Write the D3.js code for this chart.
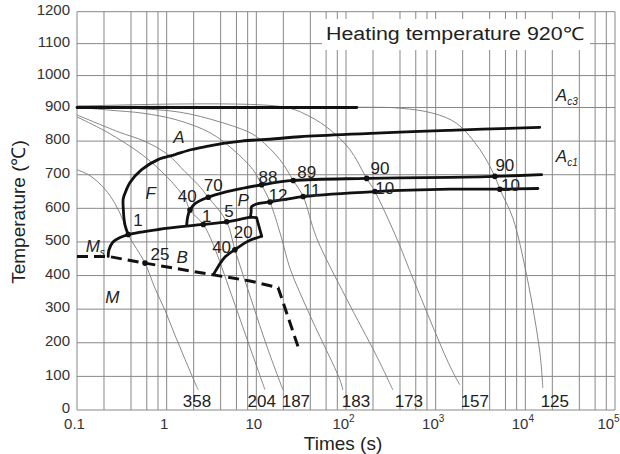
<!DOCTYPE html>
<html><head><meta charset="utf-8">
<script src="https://cdn.jsdelivr.net/npm/d3@7"></script>
<style>body{margin:0;background:#fff}svg{display:block}</style>
</head><body>
<svg id="c" width="620" height="454"></svg>
<script>
// ---------- data ----------
const xTicks = [0.1, 1, 10, 100, 1000, 10000, 100000];
const xTickBase = ["0.1", "1", "10", "10", "10", "10", "10"];
const xTickExp = ["", "", "", "2", "3", "4", "5"];
const yTicks = [0,100,200,300,400,500,600,700,800,900,1000,1100,1200];
const gridMultipliers = [1, 2, 4, 6, 8];
const gridDecades = [-1, 0, 1, 2, 3, 4];

const titleText = "Heating temperature 920\u2103";

// thick transformation lines: [time s, temperature C]
const ac3Line = [[0.1,900],[132,900]];
const ferriteStart = [[0.373,522],[0.343,550],[0.328,600],[0.328,629],[0.358,657],[0.39,677],[0.526,715],[0.80,745],[1.24,760],[1.9,775],[2.89,785],[4.47,794],[6.86,800],[16.1,807],[30.6,813],[1440,832],[14500,841]];
const ferritePearlite = [[1.67,549],[1.72,576],[1.82,595],[2.07,614],[2.91,633],[4.47,648],[6.86,659],[11.46,670],[25.8,683],[170,689],[1440,692],[4571,695],[15200,700]];
const bainiteStart = [[0.223,457],[0.227,476],[0.252,500],[0.302,513],[0.373,522],[0.806,537],[2.56,552],[4.67,560],[8.6,574]];
const bainiteFinish = [[3.31,402],[3.76,427],[4.47,455],[5.77,477],[8.06,502],[11.46,517]];
const pearliteCorner = [[11.46,517],[10.07,572],[8.6,574]];
const pearliteFinish = [[8.6,574],[8.75,590],[8.86,605],[10.4,614],[14.2,619],[33.3,635],[210,650],[1440,657],[5196,657],[13800,659]];
const msLine = [[0.1,457],[0.223,457],[0.573,437],[3.31,402],[8.48,384],[17.5,364],[29.3,187]];

// thin cooling curves
const cool358 = [[0.1,715],[0.14,697],[0.205,657],[0.265,614],[0.326,565],[0.373,522],[0.573,437],[0.741,362],[0.957,297],[1.24,222],[1.6,151],[2.07,81],[2.25,60]];
const cool204 = [[0.1,872],[0.222,825],[0.53,760],[1.03,691],[1.6,629],[1.82,595],[2.56,552],[3.31,492],[5.21,347],[8.6,182],[12.5,60]];
const cool187 = [[0.1,878],[0.286,828],[0.573,799],[1.03,760],[1.6,709],[2.23,671],[2.91,633],[4.67,560],[5.77,477],[8.91,323],[13.4,182],[19.8,60]];
const cool183 = [[0.1,901],[0.233,892],[0.544,883],[1.30,863],[3.04,825],[5.49,775],[9.17,715],[11.46,670],[14.2,619],[19.1,512],[23.7,422],[39.6,282],[85.5,90],[92.3,60]];
const cool173 = [[0.1,904],[0.39,898],[1.41,886],[3.93,857],[8.49,825],[10.97,805],[18.3,745],[25.8,683],[33.3,635],[47,512],[101,332],[219,161],[333,60]];
const cool157 = [[0.1,904],[19.8,902],[39.6,873],[66.2,834],[110.5,775],[170,689],[210,650],[366,512],[557,392],[1440,131],[1860,75]];
const cool125 = [[0.1,904],[132,901],[399,898],[931,883],[1710,853],[3110,775],[4571,695],[5196,657],[7254,571],[10390,398],[14510,172],[15670,66]];
const coolingCurves = [cool358, cool204, cool187, cool183, cool173, cool157, cool125];

// hardness labels at curve ends: [text, time, temp]
const hardnessLabels = [["358",2.18,27],["204",11.5,27],["187",27.6,27],["183",129,27],["173",502,27],["157",2735,27],["125",21330,27]];

// intersection dots
const dots = [[0.373,522],[1.82,595],[2.91,633],[11.46,670],[25.8,683],[170,689],[4571,695],[14.2,619],[33.3,635],[210,650],[5196,657],[2.56,552],[4.67,560],[5.77,477],[0.573,437]];
// percentage labels: [text, time, temp]
const percentLabels = [["1",0.479,565],["40",1.697,638],["70",3.31,669],["88",13.5,693],["89",36.4,709],["90",239,719],["90",5908,730],["12",17.5,641],["11",41.4,655],["10",271,660],["10",6840,669],["1",2.79,579],["5",4.95,592],["20",7.14,529],["40",4.1,485],["25",0.842,465]];
// phase region labels: [text, time, temp]
const phaseLabels = [["A",1.371,813],["F",0.662,646],["P",7.14,624],["B",1.49,455],["M",0.2474,337]];

// ---------- drawing ----------
const svg = d3.select("#c");
const x = d3.scaleLog().domain([0.1, 1e5]).range([77, 615]);
const y = d3.scaleLinear().domain([0, 900, 1200]).range([410, 107.5, 11.7]);
const FONT = "'Liberation Sans', Arial, sans-serif";
const gridColor = "#888";

const gridX = [];
gridDecades.forEach(k => gridMultipliers.forEach(m => gridX.push(m * Math.pow(10, k))));
gridX.push(1e5);

const g = svg.append("g");
g.selectAll(".vg").data(gridX).join("line")
  .attr("x1", d => x(d)).attr("x2", d => x(d))
  .attr("y1", y(1200)).attr("y2", y(0))
  .attr("stroke", gridColor).attr("stroke-width", 1);
g.selectAll(".hg").data(yTicks).join("line")
  .attr("x1", x(0.1)).attr("x2", x(1e5))
  .attr("y1", d => y(d)).attr("y2", d => y(d))
  .attr("stroke", gridColor).attr("stroke-width", 1);

// title box
g.append("rect").attr("x", 322).attr("y", 19).attr("width", 268).attr("height", 31).attr("fill", "#fff");
g.append("text").attr("x", 326).attr("y", 40).attr("font-family", FONT).attr("font-size", 18)
  .attr("textLength", 258).attr("lengthAdjust", "spacingAndGlyphs")
  .attr("fill", "#222").text(titleText);

// axes
const yAxis = d3.axisLeft(y).tickValues(yTicks).tickSize(0).tickPadding(7).tickFormat(d3.format("d"));
const ya = svg.append("g").attr("transform", `translate(${x(0.1)},0)`).call(yAxis);
ya.select(".domain").remove();
ya.selectAll("text").attr("font-family", FONT).attr("font-size", 15).attr("fill", "#333")
  .attr("dy", "0.32em").attr("y", -2);

const xAxis = d3.axisBottom(x).tickValues(xTicks).tickSize(0).tickPadding(10).tickFormat("");
const xa = svg.append("g").attr("transform", `translate(0,${y(0)})`).call(xAxis);
xa.select(".domain").remove();
xa.selectAll(".tick").each(function(d, i) {
  const t = d3.select(this).append("text").attr("y", 19).attr("x", i === xTicks.length - 1 ? -7 : -3)
    .attr("text-anchor", "middle").attr("font-family", FONT).attr("font-size", 15).attr("fill", "#333");
  t.append("tspan").text(xTickBase[i]);
  if (xTickExp[i]) t.append("tspan").attr("font-size", 10).attr("dy", -7).text(xTickExp[i]);
});

svg.append("text").attr("transform", "translate(25,212) rotate(-90)")
  .attr("text-anchor", "middle").attr("font-family", FONT).attr("font-size", 19).attr("fill", "#222")
  .text("Temperature (\u2103)");
svg.append("text").attr("x", 343).attr("y", 450)
  .attr("text-anchor", "middle").attr("font-family", FONT).attr("font-size", 19).attr("fill", "#222")
  .text("Times (s)");

// lines
const smooth = d3.line().x(d => x(d[0])).y(d => y(d[1])).curve(d3.curveCatmullRom.alpha(0.5));
const straight = d3.line().x(d => x(d[0])).y(d => y(d[1]));

svg.selectAll(".cool").data(coolingCurves).join("path")
  .attr("d", smooth).attr("fill", "none").attr("stroke", "#7a7a7a").attr("stroke-width", 0.9);

const thick = (data, gen) => svg.append("path").attr("d", gen(data)).attr("fill", "none")
  .attr("stroke", "#111").attr("stroke-width", 2.8).attr("stroke-linejoin", "round").attr("stroke-linecap", "round");
thick(ac3Line, straight);
thick(ferriteStart, smooth);
thick(ferritePearlite, smooth);
thick(bainiteStart, smooth);
thick(bainiteFinish, smooth);
thick(pearliteCorner, straight);
thick(pearliteFinish, smooth);
svg.append("path").attr("d", straight(msLine)).attr("fill", "none").attr("stroke", "#111")
  .attr("stroke-width", 3).attr("stroke-dasharray", "11,6");

svg.selectAll(".dot").data(dots).join("circle")
  .attr("cx", d => x(d[0])).attr("cy", d => y(d[1])).attr("r", 2.8).attr("fill", "#111");

svg.selectAll(".pl").data(percentLabels).join("text")
  .attr("x", d => x(d[1])).attr("y", d => y(d[2])).attr("dy", "0.36em")
  .attr("text-anchor", "middle").attr("font-family", FONT).attr("font-size", 17).attr("fill", "#222")
  .text(d => d[0]);

svg.selectAll(".hl").data(hardnessLabels).join("text")
  .attr("x", d => x(d[1])).attr("y", d => y(d[2])).attr("dy", "0.36em")
  .attr("text-anchor", "middle").attr("font-family", FONT).attr("font-size", 17).attr("fill", "#222")
  .text(d => d[0]);

svg.selectAll(".ph").data(phaseLabels).join("text")
  .attr("x", d => x(d[1])).attr("y", d => y(d[2])).attr("dy", "0.36em")
  .attr("text-anchor", "middle").attr("font-family", FONT).attr("font-size", 17).attr("font-style", "italic").attr("fill", "#222")
  .text(d => d[0]);

// subscripted labels
function subLabel(t, T, main, sub) {
  const tx = svg.append("text").attr("x", x(t)).attr("y", y(T)).attr("dy", "0.36em")
    .attr("font-family", FONT).attr("font-size", 17).attr("font-style", "italic").attr("fill", "#222");
  tx.append("tspan").text(main);
  tx.append("tspan").attr("font-size", 10).attr("dy", 4).text(sub);
}
subLabel(0.125, 487, "M", "s");
subLabel(21880, 941, "A", "c3");
subLabel(21880, 755, "A", "c1");
</script>
</body></html>
